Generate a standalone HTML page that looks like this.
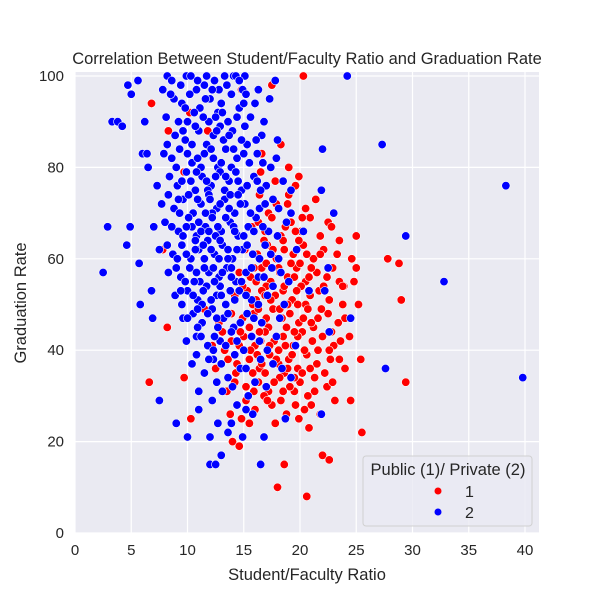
<!DOCTYPE html>
<html><head><meta charset="utf-8"><style>
body{margin:0;background:#fff;font-family:"Liberation Sans","DejaVu Sans",sans-serif}
svg text{font-family:"Liberation Sans","DejaVu Sans",sans-serif;fill:#262626}
</style></head><body>
<svg id="chart" width="600" height="600" viewBox="0 0 600 600" xmlns="http://www.w3.org/2000/svg">
<rect width="600" height="600" fill="#fff"/>
<rect x="75" y="72" width="464" height="461" fill="#eaeaf2"/>
<g id="grid"></g><g id="pts"></g><g id="axes"></g>
<text x="307" y="64" text-anchor="middle" font-size="16.5">Correlation Between Student/Faculty Ratio and Graduation Rate</text>
<text x="307" y="580" text-anchor="middle" font-size="16.5">Student/Faculty Ratio</text>
<text transform="translate(26,303) rotate(-90)" text-anchor="middle" font-size="16.5">Graduation Rate</text>
<g>
<rect x="363" y="456" width="169" height="70" rx="3" fill="#eaeaf2" fill-opacity="0.8" stroke="#d0d0d0"/>
<text x="448" y="475" text-anchor="middle" font-size="16.5">Public (1)/ Private (2)</text>
<circle cx="438" cy="491" r="3.5" fill="#ff0000"/>
<text x="465" y="497" font-size="16">1</text>
<circle cx="438" cy="512" r="3.5" fill="#0000ff"/>
<text x="465" y="518" font-size="16">2</text>
</g>
</svg>
<script>
const xTicks=[0,5,10,15,20,25,30,35,40];
const yTicks=[0,20,40,60,80,100];
const publicData=[[20.3,100],[17.5,98],[29.4,33],[29,51],[28.8,59],[27.8,60],[25,58],[25.2,50],[25.5,22],[24.5,29],[20.6,8],[18,10],[18.6,15],[22,17],[22.6,16],[25,65],[23.9,54],[6.6,33],[8.3,88],[9.7,79],[7.8,62],[8.2,45],[9.7,34],[10.3,25],[14,20],[14.6,19],[15.5,24],[13.8,26],[21,28],[19.5,31],[16.5,79],[18.3,85],[19,80],[16.6,83],[6.8,94],[11.8,88],[14.8,97],[10.2,92],
[16.4,74],[17.8,77],[18.9,72],[19.6,76],[20.5,71],[21.4,73],[17.2,70],[19.9,78],[22.5,68],
[15.7,67],[16.9,66],[17.5,69],[18.3,65],[19.2,68],[20.1,66],[20.9,69],[21.8,65],[22.8,67],[18.7,67],[23.5,64],
[15.1,62],[16.2,61],[17.1,63],[17.9,60],[18.6,62],[19.4,61],[20.3,63],[21.2,60],[22.1,62],[23.3,61],[24.6,60],[16.8,64],[19.9,64],[18.1,58],
[14.6,57],[15.6,56],[16.6,58],[17.4,55],[18.2,57],[18.9,56],[19.7,58],[20.5,55],[21.5,57],[22.4,56],[23.5,55],[17,59],[20,59],[16.1,55],[19.2,59],[21,58],
[14.2,52],[15.3,53],[16.1,51],[17,54],[17.8,52],[18.5,53],[19.3,51],[20.1,54],[20.9,52],[21.7,53],[22.6,51],[23.8,54],[15.8,50],[18.9,50],[20.5,50],[17.4,51],[19.7,53],[16.6,53],[14.9,54],[22.1,54],
[14.9,47],[15.9,48],[16.8,46],[17.6,49],[18.4,47],[19.1,48],[19.9,46],[20.7,49],[21.6,47],[22.5,48],[23.4,46],[17.2,45],[18.8,45],[20.3,47],[16.3,49],[13.9,48],[12.8,46],[11.5,49],[21.2,45],[24,47],
[13.9,42],[15,43],[16,41],[16.9,44],[17.7,42],[18.5,43],[19.4,41],[20.2,44],[21.1,42],[22,43],[23,41],[15.6,40],[18.1,40],[19.8,43],[17.3,41],[13.1,44],[12.2,41],[16.4,44],[21.6,40],[14.6,41],
[14.4,37],[15.5,38],[16.4,36],[17.3,39],[18.1,37],[19,38],[19.8,36],[20.6,39],[21.5,37],[22.7,38],[24,36],[16.9,35],[18.6,35],[20.2,35],[13.6,38],[23.5,38],[12.5,36],
[15.2,32],[16.3,33],[17.2,31],[18.2,34],[19.1,32],[20,33],[21.3,31],[22.4,32],[14.2,33],[16.8,30],[19.5,34],[22.9,33],[13.5,31],[20.7,30],
[16,27],[17.5,28],[18.8,26],[20.4,27],[21.8,26],[15.2,29],[19.6,28],[23.1,29],[14.8,25],[17.8,24],[20.8,23],
[15.5,45],[16.2,39],[17,47],[17.9,38],[18.7,41],[19.5,44],[20.4,40],[21,46],[21.9,49],[22.8,44],[15.8,35],[17.7,33],[18.5,31],[19.3,39],[20.9,36],[22.2,35],[23.6,42],[16.5,42],[18.2,49],[19.8,50],[20.8,56],[21.8,61],[22.9,58],[17.6,62],[18.5,64],[19.6,66],[20.6,61],[16.3,68],[17.9,72],[19,74],[20.2,69],[15.9,58],[16.9,52],[18.6,54],[19.5,56],[14.7,44],[16.6,37],[18.9,36],[21.3,34],[17.1,29],[18.3,29],[19.9,25],[15.9,31],[14.3,35],[13.3,40],[22.6,40],[23.8,50],[24.4,43],[25.4,38],[24.8,55]];
const privateData=[[2.5,57],[2.9,67],[3.3,90],[3.8,90],[4.2,89],[4.7,98],[5,96],[4.9,67],[4.6,63],[5.7,59],[6,83],[6.4,83],[6.9,47],[7.5,29],[7.3,76],[9,24],[10,21],[12,15],[12.5,15],[13,17],[16.5,15],[16.8,21],[21.9,26],[22.2,53],[24.2,100],[27.3,85],[27.6,36],[29.4,65],[32.8,55],[38.3,76],[39.8,34],[22.6,44],[24.5,47],[5.6,99],[6.2,90],[6.5,80],[6.8,53],[7,67],[5.8,50],[22,84],[21.9,75],[23,70],[22.5,58],
[8.2,100],[8.6,99],[9.9,100],[10.3,100],[11.7,100],[12.4,99],[14.1,100],[14.3,100],[15.1,100],[17.8,99],
[7.8,97],[9.4,98],[10.8,97],[11.5,98],[12.8,97],[13.5,98],[14.9,97],[15.2,96],[16.3,97],
[8.8,95],[9.5,94],[10.2,96],[11.1,93],[12,95],[13,94],[13.9,96],[14.6,93],[16,94],[17.3,95],[11.6,95],[12.7,92],
[8.1,91],[9.2,90],[10.6,92],[11.9,90],[12.5,91],[13.6,90],[15.6,91],[16.8,90],[10,90],[14.4,91],
[8.9,87],[9.8,86],[11,88],[11.7,85],[12.3,87],[13.2,86],[14,88],[15.3,85],[16.6,87],[18,86],[10.4,85],[12.9,89],[14.8,86],
[7.9,83],[8.6,82],[9.3,84],[10.4,81],[11.5,83],[12.7,80],[13.4,84],[14.4,82],[15.5,81],[16.2,83],[17.4,80],[10.9,82],[12.1,84],[13.9,80],[9,80],
[8.4,78],[9.1,76],[9.9,79],[10.7,75],[11.3,78],[12.1,76],[12.9,79],[13.7,77],[14.8,75],[15.9,78],[17,76],[18.5,77],[10.3,77],[11.8,75],[13.3,75],[14.3,79],[16.5,75],[19.2,75],
[7.7,72],[8.8,71],[9.6,73],[10.5,70],[11.2,72],[11.9,74],[12.6,71],[13.3,73],[14.2,70],[15.1,72],[16.4,71],[17.6,73],[19.2,70],[10.1,74],[12.2,70],[13.8,74],[14.7,72],[11.6,70],[9.3,70],
[8,68],[9.2,66],[10.1,69],[10.8,65],[11.6,67],[12.2,69],[13,66],[13.8,68],[14.5,65],[15.4,67],[16.1,69],[17.2,66],[18.8,68],[20.3,66],[11.2,66],[12.7,67],[14.1,67],[10.4,67],[9.6,65],
[7.5,62],[8.7,61],[9.5,63],[10.3,60],[11,62],[11.8,64],[12.4,61],[13.1,63],[14,60],[14.9,62],[15.8,61],[16.9,63],[18.1,60],[19.7,62],[10.7,64],[12.8,60],[13.6,62],[11.5,60],[9.1,60],
[8.3,57],[9.4,56],[10.2,58],[11.1,55],[11.9,57],[12.8,56],[13.5,58],[14.3,55],[15.2,57],[16.3,56],[17.5,58],[19,55],[10.6,55],[12.3,58],[13.9,56],
[8.9,52],[10,53],[10.9,51],[11.7,54],[12.6,52],[13.4,50],[14.6,53],[15.7,51],[17.1,52],[18.6,50],[20.8,53],[11.3,50],[12.9,54],[9.5,50],
[9.6,47],[10.5,48],[11.3,46],[12.2,49],[13.2,47],[14.1,45],[15.3,48],[16.6,46],[18.2,47],[12.7,45],[10.9,45],
[9.9,42],[10.8,43],[11.8,41],[12.9,42],[13.9,44],[15,40],[16.4,42],[17.9,43],[19.6,41],[12.3,40],
[10.4,37],[11.5,35],[12.3,38],[13.6,34],[14.7,36],[16,33],[17.6,37],[19.2,34],[11,31],[13.1,31],[15.4,30],
[11,27],[12.7,24],[13.6,22],[14.4,28],[15.8,26],[18.7,25],[12.2,29],[14.9,21],
[8.5,96],[9.8,93],[10.9,99],[12.2,97],[13.3,100],[14.6,99],[11.4,91],[13.1,92],[15,94],[9.6,88],[10.7,89],[12.6,88],[13.7,87],[15.1,89],[16.1,86],[8.2,85],[10,83],[11.2,80],[12.3,82],[13,81],[14.1,84],[15,83],[16.7,81],[17.9,82],[9.5,77],[10.8,79],[11.7,77],[12.5,78],[13.4,78],[14.5,77],[15.3,76],[16.2,77],[8.3,74],[9.2,73],[10.9,73],[12,73],[12.9,72],[13.7,71],[14.5,74],[15.6,70],[16.9,72],[18.1,71],[8.6,67],[9.9,67],[11,68],[11.9,66],[12.5,65],[13.4,69],[14.2,66],[15,65],[15.9,66],[16.7,67],[18,65],[8.2,63],[9.9,61],[10.7,62],[11.4,63],[12.1,62],[12.9,64],[13.6,60],[14.4,62],[15.3,63],[16.4,60],[17.4,61],[9,58],[9.8,55],[10.8,57],[11.5,58],[12.4,55],[13.1,57],[13.9,58],[14.8,55],[15.7,58],[16.8,56],[18.3,57],[9.4,53],[10.5,52],[11.4,53],[12.1,51],[13,52],[13.8,53],[14.2,51],[15.2,52],[16.3,50],[17.6,54],[10,47],[10.9,49],[11.8,48],[12.6,47],[13.6,48],[14.7,46],[15.9,47],[11.2,43],[12.4,43],[13.4,41],[14.4,42],[15.7,43],[17.1,40],[10.8,39],[11.9,38],[13,37],[14.2,39],[15.2,36],[16.5,38],[18.4,36],[12.6,33],[14,32],[17,32],[13.9,24],[15.2,27],[12,21]];
const X=v=>75+v*11.25, Y=v=>533-v*4.57;
const NS='http://www.w3.org/2000/svg';
const grid=document.getElementById('grid'),axes=document.getElementById('axes'),pts=document.getElementById('pts');
function mk(t,a,p){const e=document.createElementNS(NS,t);for(const k in a)e.setAttribute(k,a[k]);p.appendChild(e);return e;}
xTicks.forEach(t=>{
 const l=mk('line',{x1:X(t),x2:X(t),y1:72,y2:533,stroke:'#fff','stroke-width':1.2},grid);
 
 
 const tx=mk('text',{x:X(t),y:555,'text-anchor':'middle','font-size':15},axes);tx.textContent=t;
 
 
});
yTicks.forEach(t=>{
 const l=mk('line',{x1:75,x2:539,y1:Y(t),y2:Y(t),stroke:'#fff','stroke-width':1.2},grid);
 
 
 const tx=mk('text',{x:64,y:Y(t)+5,'text-anchor':'end','font-size':15},axes);tx.textContent=t;
 
 
});
function draw(data,color,name){data.forEach(d=>{
 const c=mk('circle',{cx:X(d[0]),cy:Y(d[1]),r:4.2,fill:color,stroke:'#fff','stroke-width':0.6},pts);
 
 
});}
draw(publicData,'#ff0000','point-public');
draw(privateData,'#0000ff','point-private');
</script>
</body></html>
